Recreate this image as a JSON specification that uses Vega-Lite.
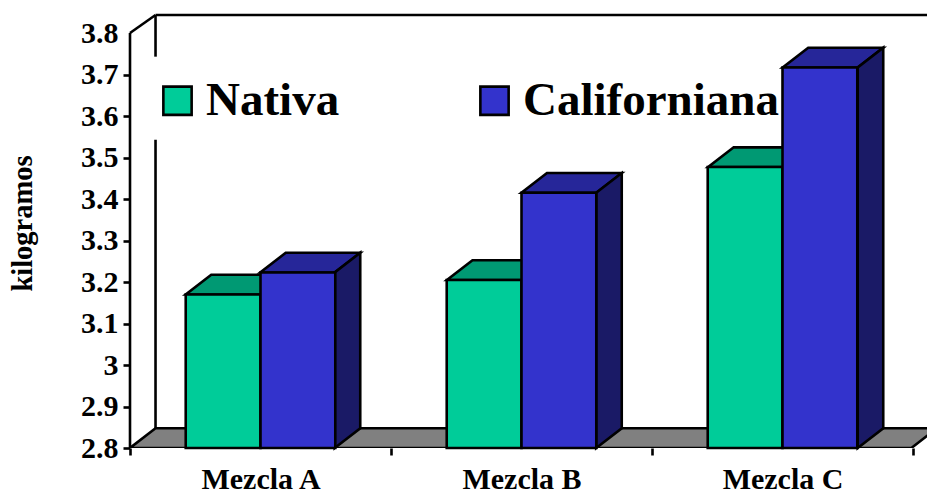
{
  "$schema": "https://vega.github.io/schema/vega-lite/v6.json",
  "width": 797,
  "height": 433,
  "autosize": "none",
  "padding": {"left": 130, "top": 15, "right": 0, "bottom": 44},
  "background": "white",
  "view": {"stroke": null},
  "datasets": {
    "barras": [
      {"mezcla": "Mezcla A", "variedad": "Nativa", "kg": 3.17},
      {"mezcla": "Mezcla A", "variedad": "Californiana", "kg": 3.223},
      {"mezcla": "Mezcla B", "variedad": "Nativa", "kg": 3.205},
      {"mezcla": "Mezcla B", "variedad": "Californiana", "kg": 3.415},
      {"mezcla": "Mezcla C", "variedad": "Nativa", "kg": 3.477},
      {"mezcla": "Mezcla C", "variedad": "Californiana", "kg": 3.717}
    ],
    "paredes": [
      {"a": 0, "b": 2.8, "a2": 0, "b2": 3.8},
      {"a": 0, "b": 3.8, "a2": 0.098, "b2": 3.8434},
      {"a": 0.098, "b": 3.8434, "a2": 3.06, "b2": 3.8434},
      {"a": 0.098, "b": 3.8434, "a2": 0.098, "b2": 3.743},
      {"a": 0.098, "b": 3.543, "a2": 0.098, "b2": 2.8475}
    ],
    "piso": [
      {"nivel": 2.8, "desde": 0, "hasta": 3},
      {"nivel": 2.8475, "desde": 0.098, "hasta": 3.098}
    ],
    "techos": [
      {"mezcla": "A", "variedad": "Nativa", "nivel": 3.17, "desde": 0.214, "hasta": 0.5},
      {"mezcla": "A", "variedad": "Nativa", "nivel": 3.2175, "desde": 0.312, "hasta": 0.598},
      {"mezcla": "A", "variedad": "Californiana", "nivel": 3.223, "desde": 0.5, "hasta": 0.786},
      {"mezcla": "A", "variedad": "Californiana", "nivel": 3.2705, "desde": 0.598, "hasta": 0.884},
      {"mezcla": "B", "variedad": "Nativa", "nivel": 3.205, "desde": 1.217, "hasta": 1.503},
      {"mezcla": "B", "variedad": "Nativa", "nivel": 3.2525, "desde": 1.315, "hasta": 1.601},
      {"mezcla": "B", "variedad": "Californiana", "nivel": 3.415, "desde": 1.503, "hasta": 1.79},
      {"mezcla": "B", "variedad": "Californiana", "nivel": 3.4625, "desde": 1.601, "hasta": 1.888},
      {"mezcla": "C", "variedad": "Nativa", "nivel": 3.477, "desde": 2.22, "hasta": 2.506},
      {"mezcla": "C", "variedad": "Nativa", "nivel": 3.5245, "desde": 2.318, "hasta": 2.604},
      {"mezcla": "C", "variedad": "Californiana", "nivel": 3.717, "desde": 2.506, "hasta": 2.794},
      {"mezcla": "C", "variedad": "Californiana", "nivel": 3.7645, "desde": 2.604, "hasta": 2.892}
    ],
    "lados": [
      {"mezcla": "A", "pos": 0.786, "base": 2.8, "tope": 3.223},
      {"mezcla": "A", "pos": 0.884, "base": 2.8475, "tope": 3.2705},
      {"mezcla": "B", "pos": 1.79, "base": 2.8, "tope": 3.415},
      {"mezcla": "B", "pos": 1.888, "base": 2.8475, "tope": 3.4625},
      {"mezcla": "C", "pos": 2.794, "base": 2.8, "tope": 3.717},
      {"mezcla": "C", "pos": 2.892, "base": 2.8475, "tope": 3.7645}
    ]
  },
  "encoding": {
    "y": {
      "type": "quantitative",
      "scale": {"domain": [2.8, 3.8434], "nice": false, "zero": false},
      "axis": {
        "values": [2.8, 2.9, 3, 3.1, 3.2, 3.3, 3.4, 3.5, 3.6, 3.7, 3.8],
        "grid": false,
        "domain": false,
        "title": "kilogramos",
        "titleFont": "Liberation Serif",
        "titleFontSize": 28.5,
        "titleFontWeight": "bold",
        "titleColor": "black",
        "titleX": -93,
        "titleY": 208,
        "labelFont": "Liberation Serif",
        "labelFontSize": 30,
        "labelFontWeight": "bold",
        "labelColor": "black",
        "labelPadding": 5,
        "labelOverlap": false,
        "tickColor": "black",
        "tickWidth": 2.6,
        "tickSize": 7,
        "tickOpacity": {"condition": {"test": "datum.value > 3.75", "value": 0}, "value": 1},
        "format": ".1~f"
      }
    }
  },
  "layer": [
    {
      "data": {"name": "paredes"},
      "mark": {"type": "rule", "color": "black", "strokeWidth": 2.6},
      "encoding": {
        "x": {"field": "a", "type": "quantitative", "scale": {"domain": [0, 3.06], "nice": false}, "axis": null},
        "x2": {"field": "a2"},
        "y": {"field": "b", "type": "quantitative"},
        "y2": {"field": "b2"}
      }
    },
    {
      "data": {"name": "piso"},
      "mark": {"type": "area", "orient": "horizontal", "fill": "#808080", "stroke": "black", "strokeWidth": 2.6, "clip": true},
      "encoding": {
        "x": {"field": "desde", "type": "quantitative", "stack": null, "scale": {"domain": [0, 3.06], "nice": false}, "axis": null},
        "x2": {"field": "hasta"},
        "y": {"field": "nivel", "type": "quantitative"}
      }
    },
    {
      "data": {"name": "techos"},
      "mark": {"type": "area", "orient": "horizontal", "stroke": "black", "strokeWidth": 2.6},
      "encoding": {
        "x": {"field": "desde", "type": "quantitative", "stack": null, "scale": {"domain": [0, 3.06], "nice": false}, "axis": null},
        "x2": {"field": "hasta"},
        "y": {"field": "nivel", "type": "quantitative"},
        "detail": {"field": "mezcla"},
        "fill": {"field": "variedad", "type": "nominal", "scale": {"domain": ["Nativa", "Californiana"], "range": ["#009973", "#262699"]}, "legend": null}
      }
    },
    {
      "data": {"name": "lados"},
      "mark": {"type": "area", "orient": "vertical", "fill": "#1A1A66", "stroke": "black", "strokeWidth": 2.6},
      "encoding": {
        "x": {"field": "pos", "type": "quantitative", "scale": {"domain": [0, 3.06], "nice": false}, "axis": null},
        "y": {"field": "base", "type": "quantitative", "stack": null},
        "y2": {"field": "tope"},
        "detail": {"field": "mezcla"}
      }
    },
    {
      "data": {"name": "barras"},
      "mark": {"type": "bar", "stroke": "black", "strokeWidth": 2.6, "opacity": 1},
      "encoding": {
        "x": {
          "field": "mezcla",
          "type": "nominal",
          "scale": {"range": [0, 783], "paddingInner": 0, "paddingOuter": 0},
          "axis": {
            "title": null,
            "domain": false,
            "labelAngle": 0,
            "labelFont": "Liberation Serif",
            "labelFontSize": 30,
            "labelFontWeight": "bold",
            "labelColor": "black",
            "labelPadding": 9,
            "tickBand": "extent",
            "tickColor": "black",
            "tickWidth": 2.6,
            "tickSize": 7
          }
        },
        "xOffset": {
          "field": "variedad",
          "type": "nominal",
          "scale": {"domain": ["Nativa", "Californiana"], "paddingInner": 0, "paddingOuter": 0.745}
        },
        "y": {"field": "kg", "type": "quantitative", "stack": null},
        "y2": {"datum": 2.8},
        "color": {
          "field": "variedad",
          "type": "nominal",
          "scale": {"domain": ["Nativa", "Californiana"], "range": ["#00CC99", "#3333CC"]},
          "legend": {
            "orient": "none",
            "legendX": 24,
            "legendY": 62,
            "title": null,
            "direction": "horizontal",
            "columns": 2,
            "gridAlign": "all",
            "columnPadding": 9,
            "padding": 0,
            "symbolType": "square",
            "symbolSize": 800,
            "symbolStrokeColor": "black",
            "symbolStrokeWidth": 2.6,
            "symbolOpacity": 1,
            "labelFont": "Liberation Serif",
            "labelFontSize": 47,
            "labelFontWeight": "bold",
            "labelColor": "black",
            "labelLimit": 400,
            "labelOffset": 5
          }
        }
      }
    }
  ],
  "resolve": {"scale": {"x": "independent", "fill": "independent", "color": "independent"}, "axis": {"x": "independent"}}
}
